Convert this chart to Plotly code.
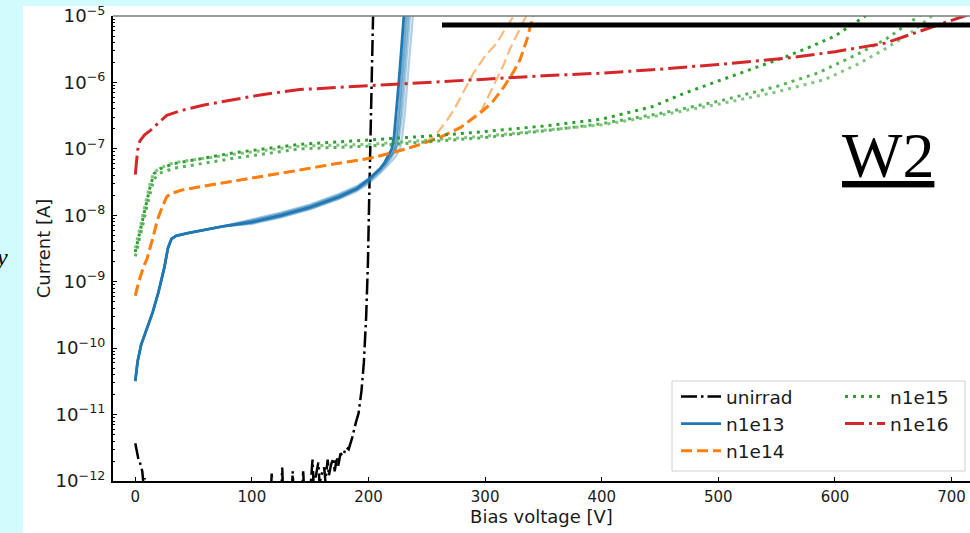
import plotly.graph_objects as go

# ---------------- data ----------------
# unirradiated sensor
V_UNIRRAD = [0, 1.5, 3, 4, 5, 6, 7, 8, 10, 20, 50, 90, 100, 110, 116, 117, 118, 125, 126, 127,
             134, 135, 136, 143, 144, 145, 150, 152, 153, 155, 157, 158, 160, 162, 163, 165, 166,
             168, 170, 171, 173, 174, 176, 178, 181, 183, 186, 189, 191.5, 194, 196, 198, 199.5,
             200.5, 201.5, 202.5, 203.5, 204.5]
I_UNIRRAD = [3.7e-12, 2.5e-12, 2.0e-12, 1.9e-12, 1.6e-12, 1.4e-12, 0.9e-12, 1.1e-12, 0.6e-12,
             0.5e-12, 0.4e-12, 0.6e-12, 0.5e-12, 0.6e-12, 0.5e-12, 1.3e-12, 0.5e-12, 0.5e-12,
             1.6e-12, 0.5e-12, 0.5e-12, 1.4e-12, 0.5e-12, 0.6e-12, 1.4e-12, 0.6e-12, 0.7e-12,
             2.1e-12, 0.8e-12, 1.2e-12, 1.9e-12, 0.9e-12, 1.3e-12, 1.6e-12, 1.0e-12, 2.1e-12,
             1.2e-12, 1.8e-12, 2.2e-12, 1.4e-12, 2.3e-12, 1.7e-12, 2.6e-12, 2.4e-12, 3.2e-12,
             3.0e-12, 4.5e-12, 7.4e-12, 1.05e-11, 2.3e-11, 6.0e-11, 3.0e-10, 1.9e-9, 1.5e-8,
             1.7e-7, 1.5e-6, 1.0e-5, 3.0e-5]

# n1e13: common low-voltage part + five sensors
V_N13_LOW = [0, 1, 2, 5, 10, 15, 20, 25, 28, 31, 35, 45, 75]
I_N13_LOW = [3.2e-11, 4.5e-11, 6.3e-11, 1.12e-10, 2.0e-10, 3.5e-10, 7.1e-10, 1.66e-9, 3.2e-9,
             4.4e-9, 4.9e-9, 5.4e-9, 6.8e-9]
V_N13_A = [100, 125, 150, 175, 190, 200, 205, 210, 214, 218, 220, 222, 224, 226, 228, 230, 232]
I_N13_A = [7.9e-9, 1.0e-8, 1.32e-8, 1.9e-8, 2.5e-8, 3.4e-8, 4.1e-8, 5.0e-8, 6.3e-8, 8.3e-8,
           1.0e-7, 1.58e-7, 3.5e-7, 1.0e-6, 2.8e-6, 8.9e-6, 2.5e-5]
V_N13_B = [100, 125, 150, 175, 190, 200, 205, 210, 215, 219, 222, 224, 226, 228, 230, 232, 234]
I_N13_B = [8.3e-9, 1.05e-8, 1.38e-8, 2.0e-8, 2.6e-8, 3.5e-8, 4.1e-8, 4.9e-8, 6.2e-8, 7.9e-8,
           1.0e-7, 1.58e-7, 3.5e-7, 1.0e-6, 2.8e-6, 8.9e-6, 2.5e-5]
V_N13_C = [100, 125, 150, 175, 190, 200, 210, 216, 220, 223, 225, 227, 229, 231, 233, 235]
I_N13_C = [7.6e-9, 9.5e-9, 1.26e-8, 1.8e-8, 2.4e-8, 3.16e-8, 4.6e-8, 6.0e-8, 7.6e-8, 9.5e-8,
           1.41e-7, 2.8e-7, 7.1e-7, 2.0e-6, 5.6e-6, 1.6e-5]
V_N13_D = [100, 125, 150, 175, 190, 200, 210, 217, 222, 225, 227, 229, 231, 233, 235, 237]
I_N13_D = [8.7e-9, 1.1e-8, 1.45e-8, 2.1e-8, 2.75e-8, 3.6e-8, 5.2e-8, 7.1e-8, 8.9e-8, 1.12e-7,
           1.78e-7, 3.5e-7, 8.9e-7, 2.5e-6, 7.1e-6, 2.0e-5]
V_N13_E = [100, 125, 150, 175, 190, 200, 210, 218, 223, 227, 229, 231, 233, 235, 237, 239]
I_N13_E = [7.4e-9, 9.3e-9, 1.23e-8, 1.78e-8, 2.3e-8, 3.0e-8, 4.3e-8, 6.0e-8, 7.6e-8, 1.0e-7,
           1.58e-7, 3.2e-7, 7.9e-7, 2.0e-6, 5.6e-6, 1.6e-5]

# n1e14: common part + three sensors
V_N14_LOW = [0, 3, 7, 10, 15, 19, 23, 27, 30, 40, 56, 100, 141, 170, 201, 220, 240]
I_N14_LOW = [6.2e-10, 1.0e-9, 1.66e-9, 2.2e-9, 4.5e-9, 8.5e-9, 1.32e-8, 1.9e-8, 2.1e-8, 2.4e-8,
             2.7e-8, 3.6e-8, 4.8e-8, 5.9e-8, 7.2e-8, 8.7e-8, 1.1e-7]
V_N14_A = [260, 279, 296, 306, 316, 324, 330, 336, 341, 346]
I_N14_A = [1.45e-7, 2.1e-7, 3.5e-7, 5.0e-7, 8.5e-7, 1.41e-6, 2.2e-6, 4.5e-6, 1.0e-5, 2.0e-5]
V_N14_B = [250, 259, 266, 273, 281, 290, 300, 310, 317, 324, 330]
I_N14_B = [1.26e-7, 1.74e-7, 2.5e-7, 3.8e-7, 7.1e-7, 1.38e-6, 2.5e-6, 3.9e-6, 6.3e-6, 1.0e-5, 1.4e-5]
V_N14_C = [260, 279, 290, 297, 303, 310, 316, 321, 327, 333, 338]
I_N14_C = [1.45e-7, 2.1e-7, 3.0e-7, 3.8e-7, 6.3e-7, 1.1e-6, 1.86e-6, 3.1e-6, 5.2e-6, 8.7e-6, 1.26e-5]

# n1e15: three sensors
V_N15_A = [0, 2, 4, 7, 10, 13, 16, 21, 33, 84, 141, 201, 250, 300, 350, 400, 420, 443, 471, 500,
           530, 557, 580, 600, 626, 640]
I_N15_A = [2.8e-9, 4.0e-9, 5.6e-9, 1.0e-8, 1.7e-8, 2.8e-8, 4.2e-8, 5.0e-8, 6.0e-8, 8.7e-8,
           1.17e-7, 1.35e-7, 1.55e-7, 1.82e-7, 2.2e-7, 2.8e-7, 3.4e-7, 4.3e-7, 6.9e-7, 1.05e-6,
           1.58e-6, 2.4e-6, 3.5e-6, 5.0e-6, 1.0e-5, 1.4e-5]
V_N15_B = [0, 2, 4, 7, 10, 13, 16, 21, 33, 84, 141, 201, 250, 300, 350, 400, 450, 500, 550, 585,
           620, 643, 660, 669, 680]
I_N15_B = [2.4e-9, 3.3e-9, 4.7e-9, 7.9e-9, 1.38e-8, 2.3e-8, 3.5e-8, 4.3e-8, 5.1e-8, 7.2e-8,
           1.0e-7, 1.1e-7, 1.26e-7, 1.48e-7, 1.86e-7, 2.4e-7, 3.4e-7, 5.2e-7, 8.7e-7, 1.38e-6,
           2.7e-6, 4.4e-6, 7.1e-6, 9.3e-6, 1.26e-5]
V_N15_C = [0, 2, 4, 7, 10, 13, 16, 21, 33, 84, 141, 201, 250, 300, 350, 400, 450, 500, 550, 591,
           620, 643, 665, 683, 695]
I_N15_C = [3.2e-9, 4.5e-9, 6.3e-9, 1.12e-8, 1.9e-8, 3.2e-8, 4.4e-8, 5.1e-8, 6.2e-8, 8.3e-8,
           1.1e-7, 1.17e-7, 1.35e-7, 1.55e-7, 1.9e-7, 2.3e-7, 3.2e-7, 4.7e-7, 7.2e-7, 1.1e-6,
           1.9e-6, 3.2e-6, 5.6e-6, 1.0e-5, 1.4e-5]

# n1e16: one sensor
V_N16 = [0, 0.5, 1, 2, 4, 8, 13, 20, 27, 40, 60, 84, 110, 141, 170, 201, 250, 300, 350, 400, 443,
         500, 557, 600, 643, 671, 690, 711, 720]
I_N16 = [4.1e-8, 5.6e-8, 7.1e-8, 9.5e-8, 1.32e-7, 1.62e-7, 1.9e-7, 2.5e-7, 3.2e-7, 3.8e-7, 4.6e-7,
         5.5e-7, 6.6e-7, 7.8e-7, 8.3e-7, 8.9e-7, 1.0e-6, 1.12e-6, 1.26e-6, 1.38e-6, 1.55e-6,
         1.86e-6, 2.3e-6, 2.9e-6, 3.9e-6, 5.8e-6, 7.4e-6, 1.0e-5, 1.17e-5]

X_TICKS = [0, 100, 200, 300, 400, 500, 600, 700]
X_RANGE = [-19.1, 715.8]
Y_RANGE_LOG = [-12, -5]

# ---------------- styling ----------------
BLUE, ORANGE, GREEN, RED = "#1f77b4", "#ff7f0e", "#2ca02c", "#d62728"
W, H = 970, 533
ML, MR, MT, MB = 113, 0, 16, 52
PW, PH = W - ML - MR, H - MT - MB


def px2x(px):
    return (px - ML) / PW


def py2y(py):
    return (H - MB - py) / PH


fig = go.Figure()

fig.add_trace(go.Scatter(x=V_UNIRRAD, y=I_UNIRRAD, mode="lines", name="unirrad",
                         line=dict(color="black", width=2.5, dash="16px,4px,2.5px,4px"),
                         legend="legend"))

blue_sets = [(V_N13_E, I_N13_E, 0.35, 2.2), (V_N13_D, I_N13_D, 0.4, 2.2),
             (V_N13_C, I_N13_C, 0.5, 2.2), (V_N13_B, I_N13_B, 0.6, 2.4),
             (V_N13_A, I_N13_A, 1.0, 2.8)]
for k, (vv, ii, op, lw) in enumerate(blue_sets):
    last = k == len(blue_sets) - 1
    fig.add_trace(go.Scatter(x=V_N13_LOW + vv, y=I_N13_LOW + ii, mode="lines", name="n1e13",
                             opacity=op, showlegend=last, legendgroup="n13",
                             line=dict(color=BLUE, width=lw), legend="legend"))

orange_sets = [(V_N14_B, I_N14_B, 0.55, 2.2), (V_N14_C, I_N14_C, 0.55, 2.2),
               (V_N14_A, I_N14_A, 1.0, 3.0)]
for k, (vv, ii, op, lw) in enumerate(orange_sets):
    last = k == len(orange_sets) - 1
    fig.add_trace(go.Scatter(x=V_N14_LOW + vv, y=I_N14_LOW + ii, mode="lines", name="n1e14",
                             opacity=op, showlegend=last, legendgroup="n14",
                             line=dict(color=ORANGE, width=lw, dash="11px,5px"),
                             legend="legend"))

green_sets = [(V_N15_C, I_N15_C, 0.6), (V_N15_B, I_N15_B, 0.8), (V_N15_A, I_N15_A, 1.0)]
for k, (vv, ii, op) in enumerate(green_sets):
    last = k == len(green_sets) - 1
    fig.add_trace(go.Scatter(x=vv, y=ii, mode="lines", name="n1e15", opacity=op,
                             showlegend=last, legendgroup="n15",
                             line=dict(color=GREEN, width=3, dash="3px,5px"),
                             legend="legend2"))

fig.add_trace(go.Scatter(x=V_N16, y=I_N16, mode="lines", name="n1e16",
                         line=dict(color=RED, width=3, dash="19px,5px,3px,5px"),
                         legend="legend2"))

XTICKFONT = dict(family="DejaVu Sans", size=15, color="#1a1a1a")
YTICKFONT = dict(family="DejaVu Sans", size=14.5, color="#1a1a1a")
TITLEFONT = dict(family="DejaVu Sans", size=18, color="#1a1a1a")
LEGFONT = dict(family="DejaVu Sans", size=18.5, color="#1a1a1a")

fig.update_layout(
    width=W, height=H,
    margin=dict(l=ML, r=MR, t=MT, b=MB, autoexpand=False),
    paper_bgcolor="white", plot_bgcolor="white",
    showlegend=True,
    xaxis=dict(range=X_RANGE, tickvals=X_TICKS, ticks="inside", ticklen=4, tickwidth=1,
               tickcolor="black", showgrid=False, zeroline=False, showline=True,
               linecolor="black", linewidth=1.5, tickfont=XTICKFONT, ticklabelstandoff=1,
               title=dict(text="Bias voltage [V]", font=TITLEFONT, standoff=3),
               automargin=False),
    yaxis=dict(type="log", range=Y_RANGE_LOG, dtick=1, exponentformat="power",
               ticks="inside", ticklen=4, tickwidth=1, tickcolor="black",
               minor=dict(ticks="inside", ticklen=2, tickwidth=0.8, tickcolor="black",
                          dtick="D1", showgrid=False),
               showgrid=False, zeroline=False, showline=True, linecolor="black", linewidth=1.5,
               tickfont=YTICKFONT, ticklabelstandoff=3,
               title=dict(text="Current [A]", font=TITLEFONT, standoff=0),
               automargin=False),
    legend=dict(x=px2x(676), y=py2y(378), xanchor="left", yanchor="top",
                bgcolor="rgba(0,0,0,0)", borderwidth=0, font=LEGFONT, itemwidth=40,
                tracegroupgap=0),
    legend2=dict(x=px2x(840), y=py2y(378), xanchor="left", yanchor="top",
                 bgcolor="rgba(0,0,0,0)", borderwidth=0, font=LEGFONT, itemwidth=40,
                 tracegroupgap=0),
)

CYAN = "#d2fbfe"
shapes = [
    # slide background strips
    dict(type="rect", xref="paper", yref="paper", x0=px2x(-5), x1=px2x(23), y0=py2y(540),
         y1=py2y(-5), fillcolor=CYAN, line=dict(width=0), layer="below"),
    dict(type="rect", xref="paper", yref="paper", x0=px2x(-5), x1=px2x(975), y0=py2y(6),
         y1=py2y(-5), fillcolor=CYAN, line=dict(width=0), layer="below"),
    # top spine
    dict(type="line", xref="paper", yref="paper", x0=0, x1=1, y0=1, y1=1,
         line=dict(color="#7a7a7a", width=1.5)),
    # thick slide bar
    dict(type="line", xref="paper", yref="paper", x0=px2x(442), x1=px2x(975), y0=py2y(25),
         y1=py2y(25), line=dict(color="black", width=5)),
    # legend frame
    dict(type="rect", xref="paper", yref="paper", x0=px2x(672), x1=px2x(965), y0=py2y(471),
         y1=py2y(381), fillcolor="rgba(255,255,255,0.8)", line=dict(color="#d0d0d0", width=1),
         layer="above"),
]
fig.update_layout(shapes=shapes)

fig.add_annotation(xref="paper", yref="paper", x=px2x(888), y=py2y(156), xanchor="center",
                   yanchor="middle", showarrow=False, text="<u>W2</u>",
                   font=dict(family="Liberation Serif", size=64, color="black"))
fig.add_annotation(xref="paper", yref="paper", x=px2x(10), y=py2y(257), xanchor="right",
                   yanchor="middle", showarrow=False, text="<i>y</i>",
                   font=dict(family="Liberation Serif", size=24, color="black"))

fig.write_html("out.html")
